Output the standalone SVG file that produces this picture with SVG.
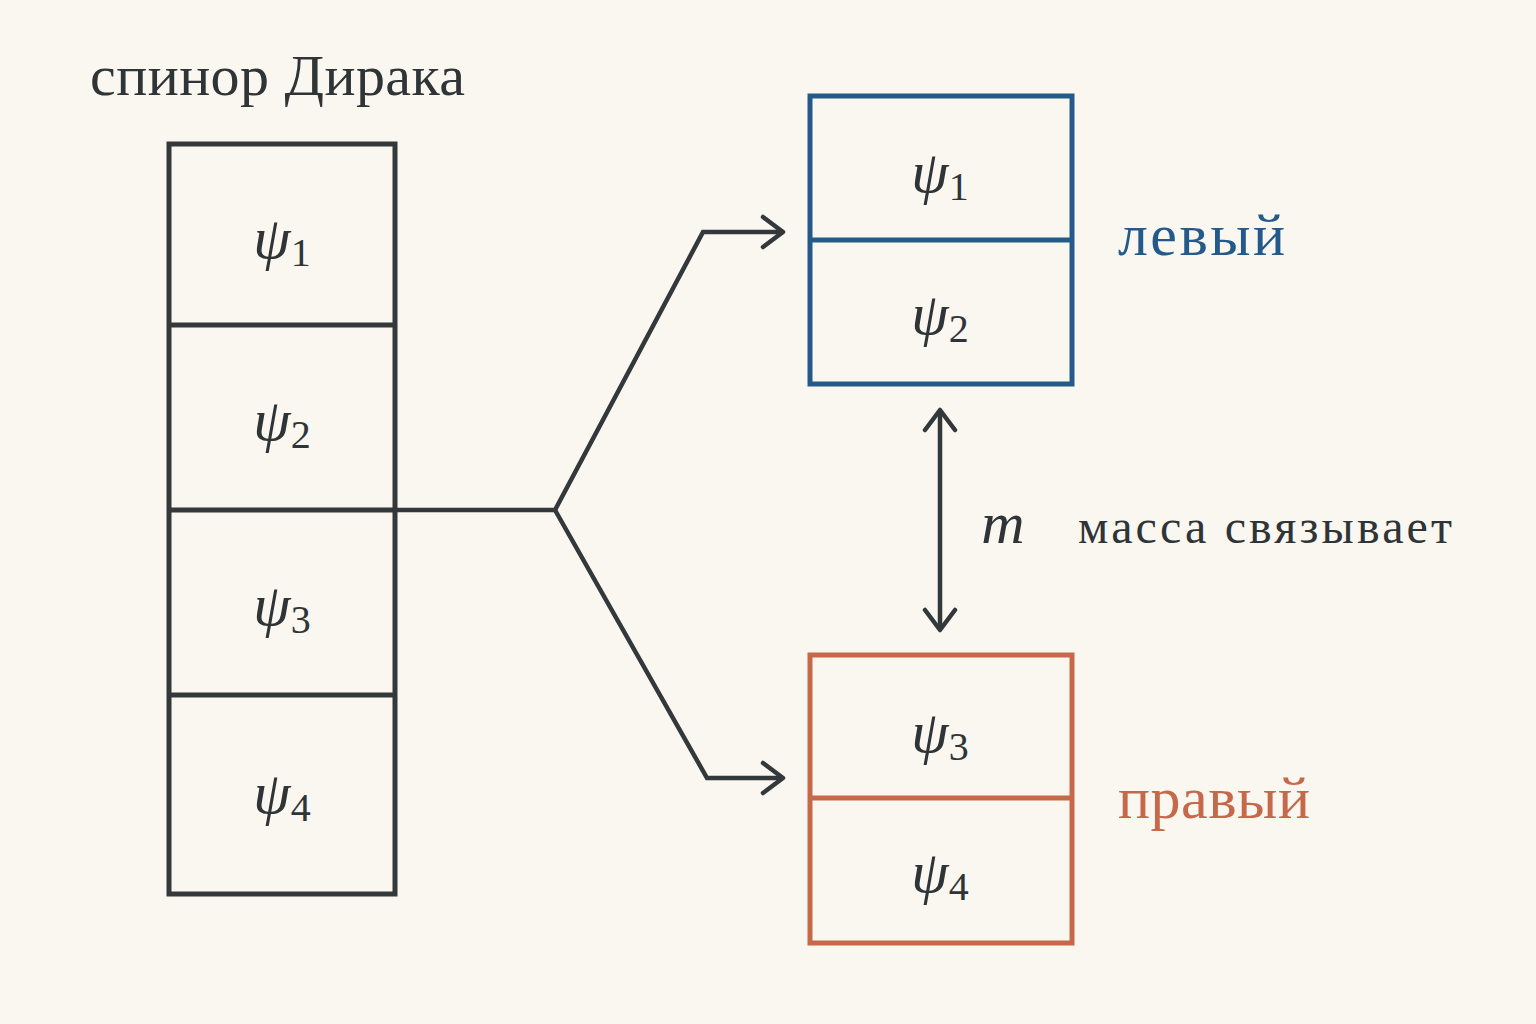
<svg xmlns="http://www.w3.org/2000/svg" width="1536" height="1024" viewBox="0 0 1536 1024">
<defs>
<style>
.bx{fill:none;stroke-width:5}
.dk{stroke:#33383b}
.bl{stroke:#235a8a}
.or{stroke:#c5694a}
.psi{font-family:"Liberation Serif",serif;font-style:italic;font-size:60px;fill:#2f3437;text-anchor:middle}
.sub{font-style:normal;font-size:40px}
.lbl{font-family:"Liberation Serif",serif}
.ln{fill:none;stroke:#33383b;stroke-width:4.5}
.ah{fill:none;stroke:#33383b;stroke-width:4.5;stroke-linecap:round;stroke-linejoin:round}
</style>
</defs>
<rect width="1536" height="1024" fill="#faf7f1"/>
<text x="90" y="95" class="lbl" fill="#2f3437" font-size="58" textLength="375">спинор Дирака</text>
<g id="dirac">
<rect x="169" y="144" width="226" height="750" class="bx dk"/>
<path d="M169 325H395M169 510H395M169 695H395" class="bx dk"/>
<text x="282" y="258" class="psi">ψ<tspan class="sub" dy="8">1</tspan></text>
<text x="282" y="440" class="psi">ψ<tspan class="sub" dy="8">2</tspan></text>
<text x="282" y="625" class="psi">ψ<tspan class="sub" dy="8">3</tspan></text>
<text x="282" y="813" class="psi">ψ<tspan class="sub" dy="8">4</tspan></text>
</g>
<g id="left">
<rect x="810" y="96" width="262" height="288" class="bx bl"/>
<path d="M810 240H1072" class="bx bl"/>
<text x="940" y="192" class="psi">ψ<tspan class="sub" dy="8">1</tspan></text>
<text x="940" y="334" class="psi">ψ<tspan class="sub" dy="8">2</tspan></text>
<text x="1118" y="255" class="lbl" fill="#235a8a" font-size="60" textLength="167">левый</text>
</g>
<g id="right">
<rect x="810" y="655" width="262" height="288" class="bx or"/>
<path d="M810 798H1072" class="bx or"/>
<text x="940" y="752" class="psi">ψ<tspan class="sub" dy="8">3</tspan></text>
<text x="940" y="892" class="psi">ψ<tspan class="sub" dy="8">4</tspan></text>
<text x="1118" y="818" class="lbl" fill="#c5694a" font-size="60" textLength="192">правый</text>
</g>
<g id="connectors">
<path d="M395 510H555L703 232H783" class="ln"/>
<path d="M763 217L783 232L763 247" class="ah"/>
<path d="M555 510L707 778H783" class="ln"/>
<path d="M763 763L783 778L763 793" class="ah"/>
<path d="M940 410V630" class="ln"/>
<path d="M925 430L940 410L955 430M925 610L940 630L955 610" class="ah"/>
<text x="1003" y="543" class="psi" font-size="60">m</text>
<text x="1078" y="543" class="lbl" fill="#2f3437" font-size="48" textLength="374">масса связывает</text>
</g>
</svg>
